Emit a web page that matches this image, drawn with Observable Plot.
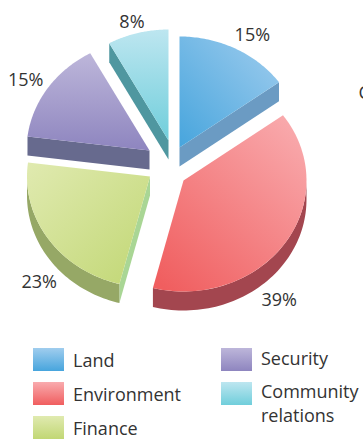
<!DOCTYPE html>
<html>
<head>
<meta charset="utf-8">
<script src="https://cdn.jsdelivr.net/npm/d3@7"></script>
<script src="https://cdn.jsdelivr.net/npm/@observablehq/plot@0.6"></script>
<style>
  html, body { margin: 0; padding: 0; background: #fff; }
  #page { position: relative; width: 363px; height: 440px; overflow: hidden; font-family: "Open Sans", sans-serif; color: #333; }
  #chart svg { display: block; }
  .entry { position: absolute; font-size: 18px; line-height: 24px; white-space: nowrap; }
  .swatch { position: absolute; width: 31px; height: 23px; }
</style>
</head>
<body>
<div id="page">
  <div id="chart"></div>
  <div id="legend"></div>
</div>
<script>
// Share of each risk category, clockwise from twelve o'clock.
const categories = ["Land", "Environment", "Finance", "Security", "Community relations"];
const shares = [15, 39, 23, 15, 8];

// Gradient stops of each top face: [dark end, light end].
const topColors = [
  ["#47a5dd", "#a0cdee"],
  ["#f05e5f", "#f9abae"],
  ["#c1d774", "#e0eab0"],
  ["#8e85bf", "#bdb6da"],
  ["#70cedb", "#bde6f0"]
];
const rimColors = ["#6f9fc4", "#a3464f", "#96a866", "#676a8e", "#4f97a0"];
const wallColors = ["#6b9bc3", "#a3464f", "#a9d695", "#676a8e", "#4f97a0"];

// Layout of the tilted, exploded pie.
const radiusX = 123;
const radiusY = 111;
const depth = 19;
const apexes = [[179, 147], [183, 180], [149.5, 176], [149, 150], [168, 140]];
const labelNudges = [[17, -13], [-6, 57], [-9, 43], [-22, -8], [-6, -11]];

const total = d3.sum(shares);
const rad = (deg) => (deg * Math.PI) / 180;

let running = 0;
const slices = shares.map((share, i) => {
  const start = (running / total) * 360;
  running += share;
  return {i, share, start, end: (running / total) * 360, apex: apexes[i]};
});

const rimPoint = (s, deg, drop = 0) => ({
  x: s.apex[0] + radiusX * Math.sin(rad(deg)),
  y: s.apex[1] - radiusY * Math.cos(rad(deg)) + drop
});

const arcPoints = (s, from, to, drop = 0) =>
  d3.range(0, 61).map((k) => rimPoint(s, from + ((to - from) * k) / 60, drop));

const apexPoint = (s, drop = 0) => ({x: s.apex[0], y: s.apex[1] + drop});

// The flat cut face hanging below one radial edge of a slice.
const wall = (s, deg) => [apexPoint(s), rimPoint(s, deg), rimPoint(s, deg, depth), apexPoint(s, depth)];

const polygon = (points, fill) => Plot.line(points, {x: "x", y: "y", fill, stroke: "none"});

const marks = [];
for (const s of slices) {
  if (Math.cos(rad(s.start - 90)) < -1e-6) marks.push(polygon(wall(s, s.start), wallColors[s.i]));
  if (Math.cos(rad(s.end + 90)) < -1e-6) marks.push(polygon(wall(s, s.end), wallColors[s.i]));
  const from = Math.max(s.start, 90);
  const to = Math.min(s.end, 270);
  if (from < to) {
    marks.push(polygon([...arcPoints(s, from, to), ...arcPoints(s, to, from, depth)], rimColors[s.i]));
  }
  marks.push(polygon([apexPoint(s), ...arcPoints(s, s.start, s.end)], `url(#top-${s.i})`));
}

// Linear gradients for the top faces, running from the apex outward.
const gradientAxes = [[0, 1, 1, 0], [0.1, 1, 0.9, 0], [1, 1, 0, 0], [0, 1, 0, 0], [0, 1, 0, 0]];
const gradients = () => {
  const defs = d3.create("svg:defs");
  topColors.forEach(([dark, light], i) => {
    const [x1, y1, x2, y2] = gradientAxes[i];
    const g = defs.append("linearGradient").attr("id", `top-${i}`)
      .attr("x1", x1).attr("y1", y1).attr("x2", x2).attr("y2", y2);
    g.append("stop").attr("offset", 0).attr("stop-color", dark);
    g.append("stop").attr("offset", 1).attr("stop-color", light);
  });
  return defs.node();
};

const labels = slices.map((s) => {
  const mid = rimPoint(s, (s.start + s.end) / 2);
  return {text: `${s.share}%`, x: mid.x + labelNudges[s.i][0], y: mid.y + labelNudges[s.i][1]};
});

const plot = Plot.plot({
  width: 363,
  height: 335,
  margin: 0,
  x: {domain: [0, 363], range: [0, 363], axis: null},
  y: {domain: [0, 335], range: [0, 335], axis: null},
  style: {background: "#fff", fontFamily: '"Open Sans", sans-serif'},
  marks: [
    gradients,
    ...marks,
    Plot.text(labels, {x: "x", y: "y", text: "text", fontSize: 18, fill: "#333", textAnchor: "middle", lineAnchor: "middle"}),
    // Start of the neighbouring column's text, cut off by the page edge.
    Plot.text(["C"], {x: () => 358, y: () => 93, text: (d) => d, fontSize: 18, fill: "#333", textAnchor: "start", lineAnchor: "middle"})
  ]
});
document.getElementById("chart").append(plot);

// Two-column legend below the pie.
const legendSpots = [
  {swatch: [33, 348], text: [73, 348]},
  {swatch: [33, 382], text: [73, 382]},
  {swatch: [33, 416], text: [73, 415.5]},
  {swatch: [221, 348], text: [261, 346]},
  {swatch: [221, 382], text: [261, 379]}
];
const legend = d3.select("#legend");
categories.forEach((name, i) => {
  const spot = legendSpots[i];
  legend.append("div").attr("class", "swatch")
    .style("left", spot.swatch[0] + "px").style("top", spot.swatch[1] + "px")
    .style("background", `linear-gradient(to bottom, ${topColors[i][1]}, ${topColors[i][0]})`);
  const words = name === "Community relations" ? ["Community", "relations"] : [name];
  legend.append("div").attr("class", "entry")
    .style("left", spot.text[0] + "px").style("top", spot.text[1] + "px")
    .html(words.join("<br>"));
});
</script>
</body>
</html>
